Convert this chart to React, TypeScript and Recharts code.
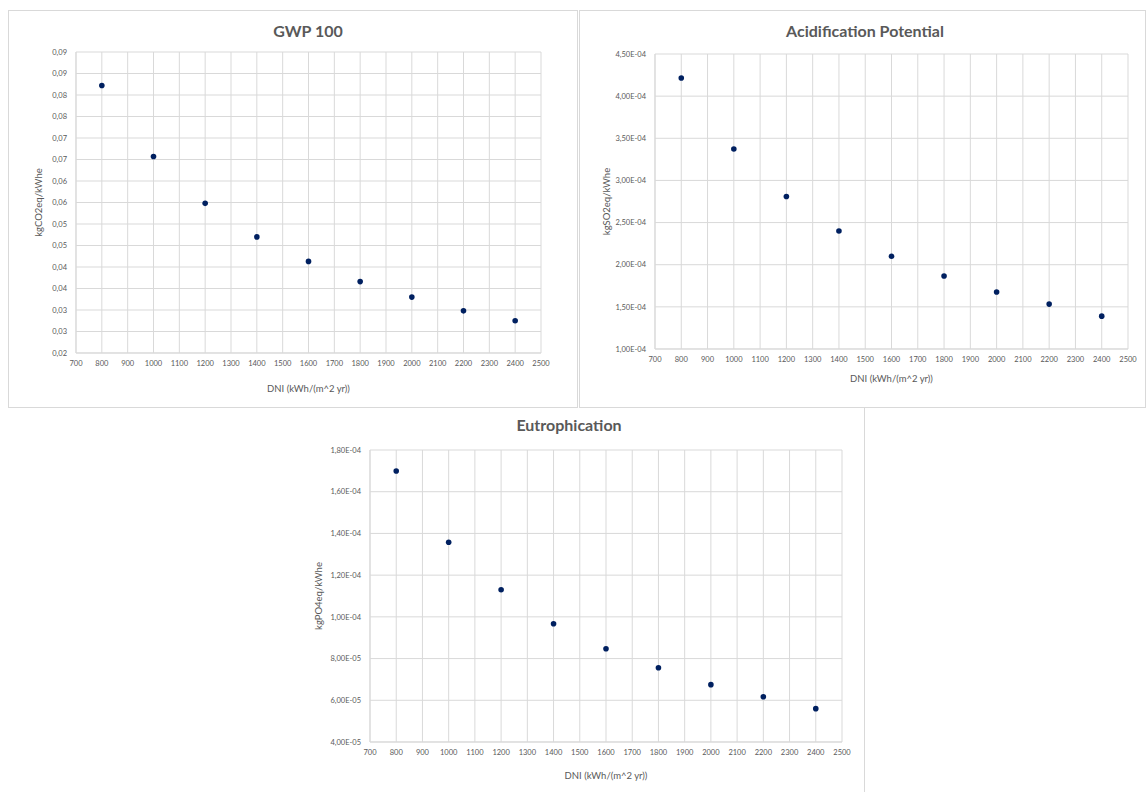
import React from 'react';
import { ScatterChart, Scatter, XAxis, YAxis, CartesianGrid, Label } from 'recharts';

// DNI values (kWh/(m^2 yr)) of the measured points
const dni = [800, 1000, 1200, 1400, 1600, 1800, 2000, 2200, 2400];

const gwp = [0.0822, 0.0657, 0.0548, 0.047, 0.0413, 0.0366, 0.033, 0.0298, 0.0275];
const acidification = [4.215e-4, 3.372e-4, 2.809e-4, 2.4e-4, 2.1e-4, 1.866e-4, 1.676e-4, 1.533e-4, 1.39e-4];
const eutrophication = [1.699e-4, 1.358e-4, 1.13e-4, 0.967e-4, 0.847e-4, 0.756e-4, 0.675e-4, 0.617e-4, 0.56e-4];

// axis ticks
const dniTicks = [700, 800, 900, 1000, 1100, 1200, 1300, 1400, 1500, 1600, 1700, 1800, 1900, 2000, 2100, 2200, 2300, 2400, 2500];
const gwpTicks = [0.02, 0.025, 0.03, 0.035, 0.04, 0.045, 0.05, 0.055, 0.06, 0.065, 0.07, 0.075, 0.08, 0.085, 0.09];
const acidTicks = [1e-4, 1.5e-4, 2e-4, 2.5e-4, 3e-4, 3.5e-4, 4e-4, 4.5e-4];
const eutroTicks = [4e-5, 6e-5, 8e-5, 1e-4, 1.2e-4, 1.4e-4, 1.6e-4, 1.8e-4];

const FONT = 'Lato, "Open Sans", sans-serif';
const TEXT = '#595959';
const GRID = '#d9d9d9';
const DOT = '#002060';

const toPoints = (ys: number[]) => dni.map((x, i) => ({ x, y: ys[i] }));

// Excel "0,00" style, with rounding half up
const fmtDecimal = (v: number) => (Math.round(v * 100 + 1e-6) / 100).toFixed(2).replace('.', ',');

// Excel "0,00E+00" style
const fmtSci = (v: number) => {
  const [m, e] = v.toExponential(2).split('e');
  const n = parseInt(e, 10);
  const exp = (n < 0 ? '-' : '+') + String(Math.abs(n)).padStart(2, '0');
  return m.replace('.', ',') + 'E' + exp;
};

const dotShape = (props: any) => <circle cx={props.cx} cy={props.cy} r={2.8} fill={DOT} />;

type PanelProps = {
  title: string;
  yTitle: string;
  data: number[];
  yTicks: number[];
  fmt: (v: number) => string;
  left: number;
  top: number;
  width: number;
  height: number;
  margin: { top: number; right: number; bottom: number; left: number };
  yWidth: number;
  yLabelX: number;
  xLabelY: number;
  titleX: number;
  titleY: number;
};

function Panel(p: PanelProps) {
  const yLabel = ({ viewBox }: any) => {
    const cy = viewBox.y + viewBox.height / 2;
    return (
      <text
        x={p.yLabelX}
        y={cy}
        transform={`rotate(-90 ${p.yLabelX} ${cy})`}
        textAnchor="middle"
        dominantBaseline="central"
        fontSize={9.5}
        fill={TEXT}
        fontFamily={FONT}
      >
        {p.yTitle}
      </text>
    );
  };
  const xLabel = ({ viewBox }: any) => (
    <text
      x={viewBox.x + viewBox.width / 2}
      y={p.xLabelY}
      textAnchor="middle"
      dominantBaseline="central"
      fontSize={9.5}
      fill={TEXT}
      fontFamily={FONT}
    >
      DNI (kWh/(m^2 yr))
    </text>
  );

  return (
    <div style={{ position: 'absolute', left: p.left, top: p.top, width: p.width, height: p.height }}>
      <div
        style={{
          position: 'absolute',
          left: p.titleX - 150,
          top: p.titleY - 11,
          width: 300,
          textAlign: 'center',
          fontFamily: FONT,
          fontWeight: 700,
          fontSize: 16,
          lineHeight: '22px',
          color: TEXT,
        }}
      >
        {p.title}
      </div>
      <ScatterChart width={p.width} height={p.height} margin={p.margin}>
        <CartesianGrid stroke={GRID} strokeWidth={1} />
        <XAxis
          type="number"
          dataKey="x"
          domain={[700, 2500]}
          ticks={dniTicks}
          interval={0}
          height={40}
          stroke={GRID}
          tickLine={false}
          tickSize={0}
          tickMargin={8}
          tick={{ fontSize: 7.5, fill: TEXT, fontFamily: FONT }}
        >
          <Label content={xLabel} />
        </XAxis>
        <YAxis
          type="number"
          dataKey="y"
          domain={[p.yTicks[0], p.yTicks[p.yTicks.length - 1]]}
          ticks={p.yTicks}
          interval={0}
          width={p.yWidth}
          stroke={GRID}
          tickLine={false}
          tickSize={0}
          tickMargin={9}
          tickFormatter={p.fmt}
          tick={{ fontSize: 7.5, fill: TEXT, fontFamily: FONT }}
        >
          <Label content={yLabel} />
        </YAxis>
        <Scatter data={toPoints(p.data)} shape={dotShape} isAnimationActive={false} />
      </ScatterChart>
    </div>
  );
}

export default function App() {
  return (
    <div style={{ position: 'absolute', left: 0, top: 0, width: 1146, height: 792, background: '#fff', fontFamily: FONT }}>
      {/* panel frames */}
      <div style={{ position: 'absolute', left: 8, top: 10, width: 570, height: 398, border: `1px solid ${GRID}`, boxSizing: 'border-box' }} />
      <div style={{ position: 'absolute', left: 579, top: 10, width: 567, height: 398, border: `1px solid ${GRID}`, boxSizing: 'border-box' }} />
      <div style={{ position: 'absolute', left: 864, top: 408, width: 1, height: 384, background: GRID }} />

      <Panel
        title="GWP 100"
        yTitle="kgCO2eq/kWhe"
        data={gwp}
        yTicks={gwpTicks}
        fmt={fmtDecimal}
        left={8}
        top={10}
        width={570}
        height={398}
        margin={{ top: 42, right: 37, bottom: 15, left: 20 }}
        yWidth={48}
        yLabelX={30}
        xLabelY={378}
        titleX={300}
        titleY={21}
      />
      <Panel
        title="Acidification Potential"
        yTitle="kgSO2eq/kWhe"
        data={acidification}
        yTicks={acidTicks}
        fmt={fmtSci}
        left={580}
        top={10}
        width={566}
        height={398}
        margin={{ top: 44, right: 18, bottom: 19, left: 20 }}
        yWidth={55}
        yLabelX={26}
        xLabelY={368}
        titleX={285}
        titleY={21}
      />
      <Panel
        title="Eutrophication"
        yTitle="kgPO4eq/kWhe"
        data={eutrophication}
        yTicks={eutroTicks}
        fmt={fmtSci}
        left={290}
        top={408}
        width={574}
        height={384}
        margin={{ top: 42, right: 22, bottom: 10, left: 20 }}
        yWidth={60}
        yLabelX={28}
        xLabelY={367}
        titleX={279}
        titleY={17}
      />
    </div>
  );
}
